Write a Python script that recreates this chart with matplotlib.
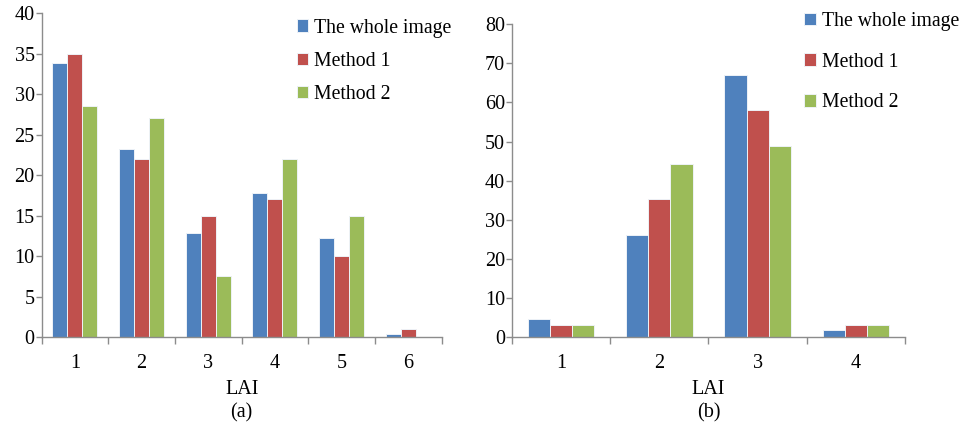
import matplotlib
matplotlib.use("Agg")
import matplotlib.pyplot as plt
import numpy as np

plt.rcParams['font.family'] = ['Liberation Serif', 'DejaVu Serif']

series = ["The whole image", "Method 1", "Method 2"]
colors = ["#4F81BD", "#C0504D", "#9BBB59"]

cats_a = ["1", "2", "3", "4", "5", "6"]
whole_a = [33.8, 23.2, 12.9, 17.8, 12.2, 0.4]
m1_a = [35.0, 22.0, 15.0, 17.0, 10.0, 1.0]
m2_a = [28.5, 27.0, 7.5, 22.0, 15.0, 0.0]

cats_b = ["1", "2", "3", "4"]
whole_b = [4.7, 26.0, 67.0, 1.9]
m1_b = [3.2, 35.2, 58.0, 3.2]
m2_b = [3.2, 44.3, 48.9, 3.2]

yticks_a = [0, 5, 10, 15, 20, 25, 30, 35, 40]
yticks_b = [0, 10, 20, 30, 40, 50, 60, 70, 80]

fig = plt.figure(figsize=(9.6, 4.24), dpi=100)
ax_a = fig.add_axes([0.0434, 0.205, 0.4166, 0.764])
ax_b = fig.add_axes([0.5333, 0.205, 0.4094, 0.738])

fs = 14.5
lfs = 14.2
gray = "#8c8c8c"

def draw(ax, cats, vals, yticks, ylim, sub, leg_anchor, spacing):
    n = len(cats)
    x = np.arange(n)
    w = 0.225
    handles = []
    for i, (v, c, s) in enumerate(zip(vals, colors, series)):
        b = ax.bar(x + (i - 1) * w, v, width=w, color=c, edgecolor="#eef2f7",
                   linewidth=0.7, label=s, zorder=2)
        handles.append(b)
    ax.set_xlim(-0.5, n - 0.5)
    ax.set_ylim(*ylim)
    ax.set_xticks(x)
    ax.set_xticklabels(cats, fontsize=fs)
    ax.set_xticks(np.arange(n + 1) - 0.5, minor=True)
    ax.tick_params(axis='x', which='major', length=0, pad=12)
    ax.tick_params(axis='x', which='minor', length=5, color=gray, width=1)
    ax.set_yticks(yticks)
    ax.set_yticklabels([str(t) for t in yticks], fontsize=fs)
    ax.tick_params(axis='y', length=4, color=gray, width=1, pad=1)
    for s in ['top', 'right']:
        ax.spines[s].set_visible(False)
    for s in ['left', 'bottom']:
        ax.spines[s].set_color(gray)
        ax.spines[s].set_linewidth(1)
    ax.set_xlabel("LAI\n" + sub, fontsize=fs, labelpad=5, linespacing=1.35)
    leg = fig.legend(handles=handles, labels=series, loc="upper left",
                     bbox_to_anchor=leg_anchor, frameon=False, fontsize=lfs,
                     handlelength=0.6, handleheight=0.6, handletextpad=0.3,
                     labelspacing=spacing, borderaxespad=0, borderpad=0)
    return leg

draw(ax_a, cats_a, [whole_a, m1_a, m2_a], yticks_a, (0, 40), "(a)",
     (0.309, 0.956), 0.72)
draw(ax_b, cats_b, [whole_b, m1_b, m2_b], yticks_b, (0, 80), "(b)",
     (0.838, 0.972), 1.1)

fig.savefig("out.png", dpi=100)
